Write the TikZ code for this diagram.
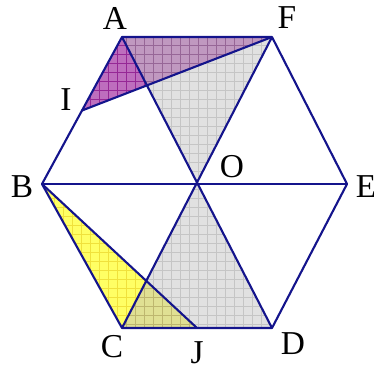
\documentclass[tikz,border=0pt]{standalone}
\usepackage{fontspec}
\setmainfont{Liberation Serif}
\usepackage{xcolor}
\usepackage{tikz}
\usetikzlibrary{calc}

\definecolor{edgeblue}{RGB}{20,20,140}
\definecolor{shadepurple}{RGB}{190,110,190}
\definecolor{gridpurple}{RGB}{150,40,150}
\definecolor{shadeyellow}{RGB}{255,255,100}
\definecolor{gridyellow}{RGB}{240,225,60}
\definecolor{shadegray}{RGB}{195,195,195}

\begin{document}
\begin{tikzpicture}[
    x=0.02cm, y=-0.02cm,
    edge/.style={draw=edgeblue, line width=1.2pt, line join=round},
    vlabel/.style={font=\fontsize{19}{19}\selectfont, inner sep=0pt},
    fine/.style={step=0.18cm, line width=0.4pt},
]
    \useasboundingbox (0,0) rectangle (374,369);

    \coordinate (A) at (122,37);
    \coordinate (F) at (272,37);
    \coordinate (E) at (347,184);
    \coordinate (D) at (272,328);
    \coordinate (C) at (122,328);
    \coordinate (B) at (42,184);
    \coordinate (O) at (197,183);
    \coordinate (I) at ($(A)!0.5!(B)$);
    \coordinate (J) at ($(C)!0.5!(D)$);

    % coloured triangles
    \fill[shadepurple] (A) -- (I) -- (F) -- cycle;
    \begin{scope}
        \clip (A) -- (I) -- (F) -- cycle;
        \draw[fine, gridpurple] (0,0) grid (374,369);
    \end{scope}
    \fill[shadeyellow] (B) -- (C) -- (J) -- cycle;
    \begin{scope}
        \clip (B) -- (C) -- (J) -- cycle;
        \draw[fine, gridyellow] (0,0) grid (374,369);
    \end{scope}

    \fill[shadegray, fill opacity=0.5] (A) -- (F) -- (O) -- cycle;
    \fill[shadegray, fill opacity=0.5] (O) -- (C) -- (D) -- cycle;
    \begin{scope}
        \clip (A) -- (F) -- (O) -- cycle (O) -- (C) -- (D) -- cycle;
        \draw[fine, black, draw opacity=0.12] (0,0) grid (374,369);
    \end{scope}

    % hexagon and lines
    \draw[edge] (A) -- (B) -- (C) -- (D) -- (E) -- (F) -- cycle;
    \draw[edge] (A) -- (D);
    \draw[edge] (F) -- (C);
    \draw[edge] (B) -- (E);
    \draw[edge] (F) -- (I);
    \draw[edge] (B) -- (J);

    \node[vlabel] (lA) at (115,18) {A};
    \node[vlabel] (lF) at (287,18) {F};
    \node[vlabel] (lI) at (66,100) {I};
    \node[vlabel] (lO) at (232,167) {O};
    \node[vlabel] (lB) at (22,187) {B};
    \node[vlabel] (lE) at (366,187) {E};
    \node[vlabel] (lC) at (112,347) {C};
    \node[vlabel] (lJ) at (197,353) {J};
    \node[vlabel] (lD) at (293,344) {D};
\end{tikzpicture}
\end{document}
